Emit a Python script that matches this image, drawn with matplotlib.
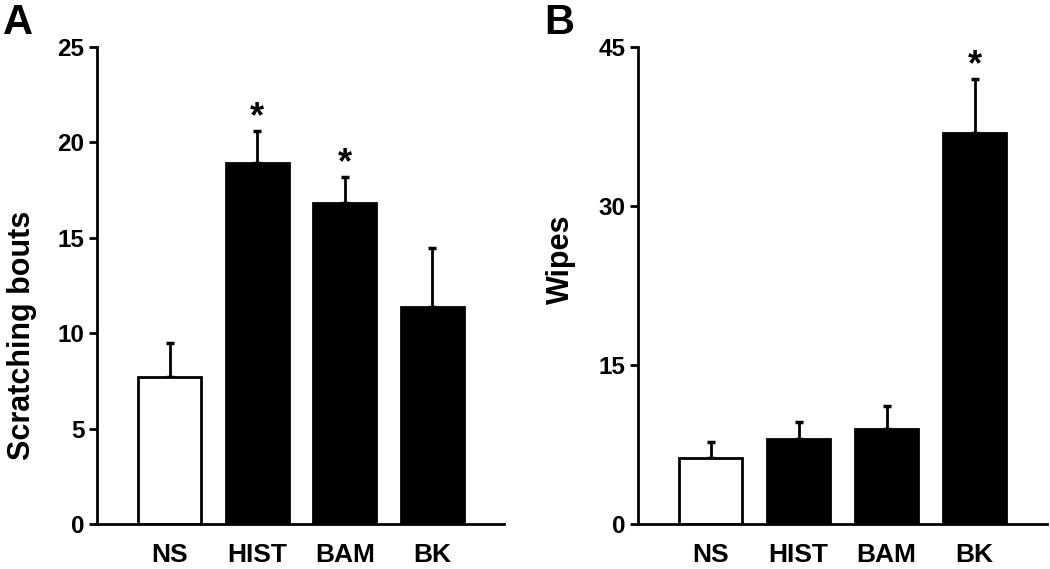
import numpy as np
import matplotlib
matplotlib.use('Agg')
import matplotlib.pyplot as plt

# =========================================================
# DATA
# =========================================================

groups = ['NS', 'HIST', 'BAM', 'BK']

scratch_mean = [7.7, 18.9, 16.8, 11.4]
scratch_err = [1.8, 1.7, 1.4, 3.05]
scratch_sig = [False, True, True, False]

wipes_mean = [6.2, 8.0, 9.0, 36.9]
wipes_err = [1.5, 1.6, 2.1, 5.1]
wipes_sig = [False, False, False, True]

bar_colors = ['white', 'black', 'black', 'black']

plt.rcParams['font.family'] = ['Liberation Sans', 'DejaVu Sans']

# =========================================================
# FIGURE
# =========================================================

fig = plt.figure(figsize=(10.5, 5.69), dpi=100)

ax_a = fig.add_axes([0.0924, 0.079, 0.3876, 0.8384])
ax_b = fig.add_axes([0.6073, 0.079, 0.3896, 0.8384])


def draw_panel(ax, means, errs, sig, ymax, yticks, ylabel, label_pos):
    x = np.arange(len(groups))
    ax.bar(
        x, means,
        width=0.72,
        color=bar_colors,
        edgecolor='black',
        linewidth=2.0,
        zorder=2
    )
    ax.errorbar(
        x, means,
        yerr=[np.zeros(len(errs)), errs],
        fmt='none',
        ecolor='black',
        elinewidth=2.0,
        capsize=3,
        capthick=2.5,
        zorder=1
    )
    for xi, m, e, s in zip(x, means, errs, sig):
        if s:
            ax.annotate(
                '*', (xi, m + e),
                xytext=(0, -3), textcoords='offset points',
                ha='center', va='bottom',
                fontsize=26, fontweight='bold'
            )

    ax.set_xlim(-0.83, 3.82)
    ax.set_ylim(0, ymax)
    ax.set_yticks(yticks)
    ax.set_xticks(x)
    ax.set_xticklabels(groups, fontsize=19, fontweight='bold')
    for lab in ax.get_yticklabels():
        lab.set_fontsize(17.5)
        lab.set_fontweight('bold')

    ax.spines['top'].set_visible(False)
    ax.spines['right'].set_visible(False)
    ax.spines['left'].set_linewidth(2.0)
    ax.spines['bottom'].set_linewidth(2.0)
    ax.tick_params(axis='y', length=6, width=2.0, pad=3)
    ax.tick_params(axis='x', length=0, pad=14)

    ax.set_ylabel(ylabel, fontsize=22, fontweight='bold')
    ax.yaxis.set_label_coords(*label_pos)


draw_panel(ax_a, scratch_mean, scratch_err, scratch_sig,
           25, [0, 5, 10, 15, 20, 25], 'Scratching bouts', (-0.147, 0.396))
draw_panel(ax_b, wipes_mean, wipes_err, wipes_sig,
           45, [0, 15, 30, 45], 'Wipes', (-0.151, 0.556))

# panel letters
fig.text(0.003, 0.995, 'A', fontsize=30, fontweight='bold', va='top', ha='left')
fig.text(0.518, 0.995, 'B', fontsize=30, fontweight='bold', va='top', ha='left')

fig.savefig('out.png', dpi=100)
